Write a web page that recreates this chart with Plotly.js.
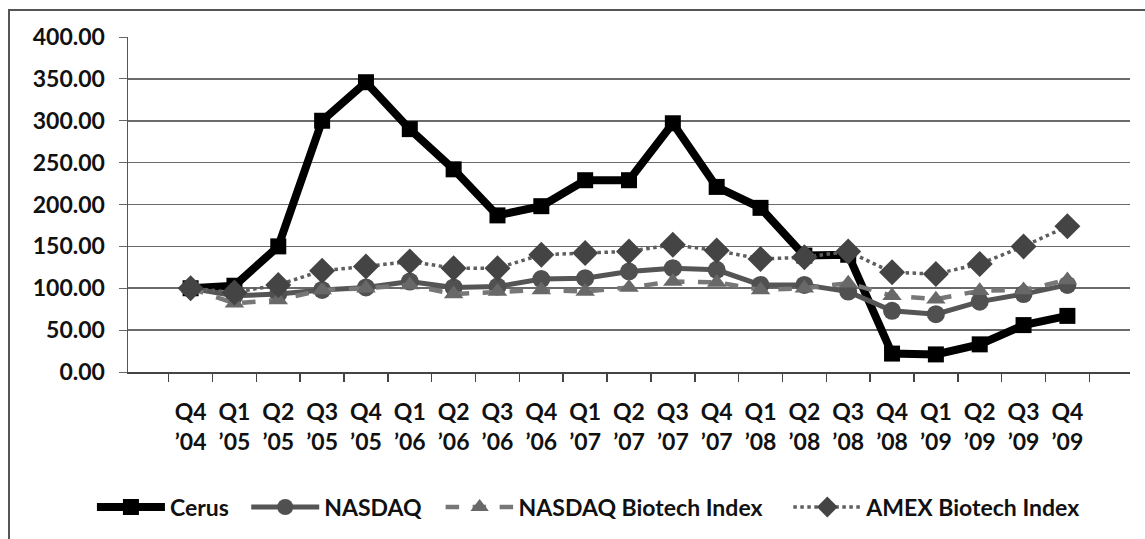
<!DOCTYPE html>
<html>
<head>
<meta charset="utf-8">
<script src="https://cdn.plot.ly/plotly-3.0.1.min.js"></script>
<style>
html,body{margin:0;padding:0;background:#fff;}
#frame{position:absolute;left:8px;top:9px;width:1145px;height:540px;border-left:2px solid #555;border-top:2px solid #555;box-sizing:border-box;}
#chart{position:absolute;left:0;top:0;width:1145px;height:539px;}
</style>
</head>
<body>
<div id="frame"></div>
<div id="chart"></div>
<script>
const quarters = ["Q4<br>’04","Q1<br>’05","Q2<br>’05","Q3<br>’05","Q4<br>’05","Q1<br>’06","Q2<br>’06","Q3<br>’06","Q4<br>’06","Q1<br>’07","Q2<br>’07","Q3<br>’07","Q4<br>’07","Q1<br>’08","Q2<br>’08","Q3<br>’08","Q4<br>’08","Q1<br>’09","Q2<br>’09","Q3<br>’09","Q4<br>’09"];
const cerus = [100,103,150,300,346,290,242,187,198,229,229,297,221,196,139,140,22,21,33,56,67];
const nasdaq = [100,91,93,98,101,108,101,102,111,112,120,124,122,104,104,96,73,69,84,93,104];
const nasdaqBiotech = [100,82,86,98,100,104,93,96,98,96,101,108,107,98,100,106,91,87,97,98,110];
const amexBiotech = [100,95,104,121,126,132,124,124,140,142,144,152,145,135,137,144,119,117,129,150,174];
const seriesNames = ["Cerus","NASDAQ","NASDAQ Biotech Index","AMEX Biotech Index"];
const yTicks = [0,50,100,150,200,250,300,350,400];

const base = {family:"Lato, 'Open Sans', sans-serif", color:"#111", weight:"bold"};
const yFont = Object.assign({}, base, {size:23});
const xFont = Object.assign({}, base, {size:23});
const legFont = Object.assign({}, base, {size:23});

const traces = [
  {x:quarters, y:cerus, name:seriesNames[0], mode:"lines+markers", legend:"legend",
   line:{color:"#000", width:8}, marker:{symbol:"square", size:16, color:"#000"}},
  {x:quarters, y:nasdaq, name:seriesNames[1], mode:"lines+markers", legend:"legend2",
   line:{color:"#555", width:5}, marker:{symbol:"circle", size:18, color:"#505050"}},
  {x:quarters, y:nasdaqBiotech, name:seriesNames[2], mode:"lines+markers", legend:"legend3",
   line:{color:"#777", width:4.5, dash:"dash"}, marker:{symbol:"triangle-up", size:17, color:"#686868"}},
  {x:quarters, y:amexBiotech, name:seriesNames[3], mode:"lines+markers", legend:"legend4",
   line:{color:"#5e5e5e", width:3.5, dash:"dot"}, marker:{symbol:"diamond", size:20, color:"#444"}}
];

function leg(x){
  return {orientation:"h", x:x, xanchor:"left", y:-0.399, yanchor:"middle",
          font:legFont, itemwidth:68, bgcolor:"rgba(0,0,0,0)", borderwidth:0};
}

const layout = {
  width:1145, height:539,
  margin:{l:128, r:15, t:37, b:166},
  paper_bgcolor:"rgba(0,0,0,0)", plot_bgcolor:"rgba(0,0,0,0)",
  font:base,
  showlegend:true,
  legend:leg(-0.036), legend2:leg(0.118), legend3:leg(0.312), legend4:leg(0.659),
  xaxis:{type:"category", tickson:"boundaries", ticks:"outside", ticklen:8, tickcolor:"#444", tickwidth:1.5,
         showline:true, linecolor:"#444", linewidth:2, showgrid:false, tickangle:0,
         tickfont:xFont, ticklabelstandoff:18, fixedrange:true},
  yaxis:{range:[0,400], tickvals:yTicks, tickformat:".2f", ticks:"outside", ticklen:8, tickcolor:"#666",
         showline:true, linecolor:"#555", linewidth:1.5, showgrid:true, gridcolor:"#6a6a6a", gridwidth:1.6,
         zeroline:false, tickfont:yFont, ticklabelstandoff:9, fixedrange:true}
};

Plotly.newPlot("chart", traces, layout, {displayModeBar:false, staticPlot:true});
</script>
</body>
</html>
